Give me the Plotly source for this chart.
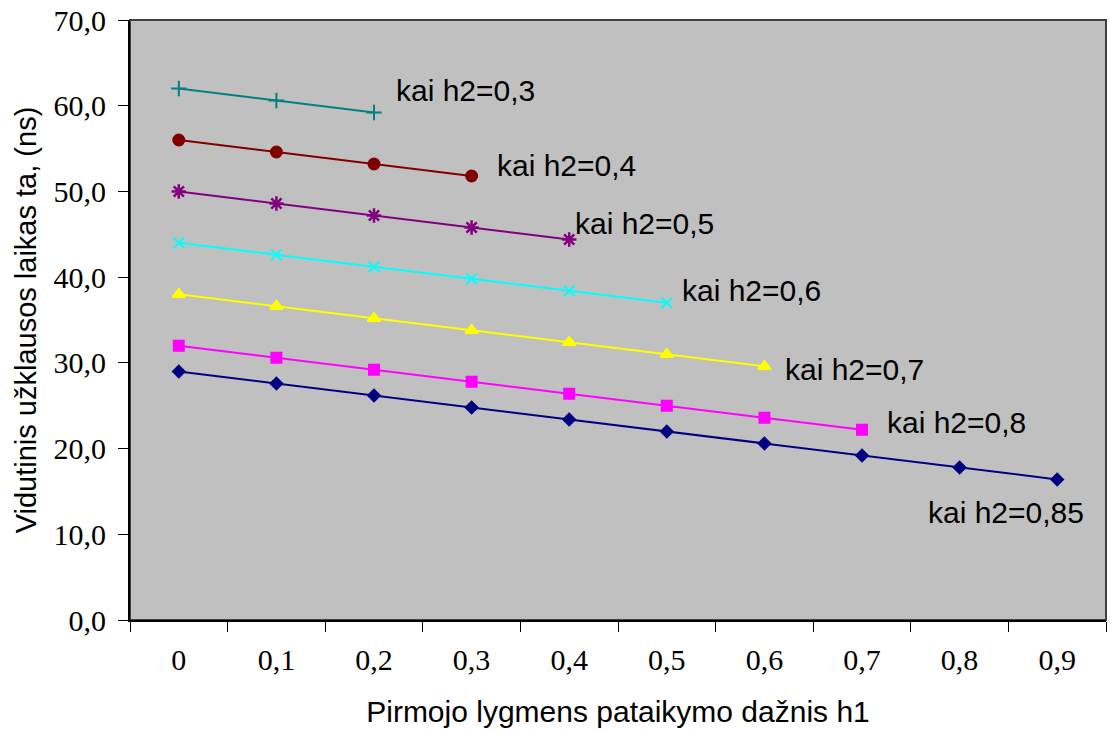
import plotly.graph_objects as go

categories = ["0", "0,1", "0,2", "0,3", "0,4", "0,5", "0,6", "0,7", "0,8", "0,9"]

s_h2_03 = [62.0, 60.6, 59.2]
s_h2_04 = [56.0, 54.6, 53.2, 51.8]
s_h2_05 = [50.0, 48.6, 47.2, 45.8, 44.4]
s_h2_06 = [44.0, 42.6, 41.2, 39.8, 38.4, 37.0]
s_h2_07 = [38.0, 36.6, 35.2, 33.8, 32.4, 31.0, 29.6]
s_h2_08 = [32.0, 30.6, 29.2, 27.8, 26.4, 25.0, 23.6, 22.2]
s_h2_085 = [29.0, 27.6, 26.2, 24.8, 23.4, 22.0, 20.6, 19.2, 17.8, 16.4]

series_labels = ["kai h2=0,3", "kai h2=0,4", "kai h2=0,5", "kai h2=0,6",
                 "kai h2=0,7", "kai h2=0,8", "kai h2=0,85"]
y_ticks = [0, 10, 20, 30, 40, 50, 60, 70]

series = [s_h2_03, s_h2_04, s_h2_05, s_h2_06, s_h2_07, s_h2_08, s_h2_085]
colors = ["#008080", "#800000", "#800080", "#00FFFF", "#FFFF00", "#FF00FF", "#000080"]
symbols = ["cross-thin-open", "circle", "asterisk-open", "x-thin-open",
           "triangle-up", "square", "diamond"]
msizes = [11, 11, 12, 11, 11, 10, 9]
mlw = [2, 2, 2.5, 2, 2, 2, 2]
# label anchor positions (category index, y value)
label_pos = [(2.2, 61.8), (3.24, 53.0), (4.04, 46.3), (5.135, 38.4),
             (6.19, 29.2), (7.235, 23.1), (7.66, 12.6)]

fig = go.Figure()
for vals, col, sym, ms, lw, name in zip(series, colors, symbols, msizes, mlw, series_labels):
    fig.add_trace(go.Scatter(
        x=categories[:len(vals)], y=vals, mode="lines+markers", name=name,
        line=dict(color=col, width=2),
        marker=dict(symbol=sym, size=ms, color=col, line=dict(color=col, width=lw)),
        showlegend=False, cliponaxis=False))

for (px, py), txt in zip(label_pos, series_labels):
    fig.add_annotation(x=px, y=py, text=txt, showarrow=False, xanchor="left",
                       yanchor="middle", font=dict(family="Liberation Sans, Arial", size=30, color="black"))

fig.add_shape(type="rect", xref="paper", yref="paper", x0=0, y0=0, x1=1, y1=1,
              line=dict(color="#404040", width=2), layer="below")

fig.update_layout(
    width=1110, height=732,
    margin=dict(l=130, r=4, t=20, b=112),
    paper_bgcolor="white", plot_bgcolor="#C0C0C0",
    separators=",.",
    xaxis=dict(type="category", categoryorder="array", categoryarray=categories,
               range=[-0.5, 9.5], tickson="boundaries", ticks="outside", ticklen=10,
               tickcolor="black", showgrid=False, showline=True, linecolor="black", linewidth=2,
               ticklabelstandoff=12,
               tickfont=dict(family="Liberation Serif, Times New Roman", size=30, color="black"),
               title=dict(text="Pirmojo lygmens pataikymo dažnis h1", standoff=26,
                          font=dict(family="Liberation Sans, Arial", size=30, color="black")),
               automargin=False),
    yaxis=dict(range=[0, 70], tickvals=y_ticks, tickformat=".1f", ticks="outside", ticklen=10,
               tickcolor="black", showgrid=False, showline=True, linecolor="black", linewidth=2,
               zeroline=False, ticklabelstandoff=6,
               tickfont=dict(family="Liberation Serif, Times New Roman", size=30, color="black"),
               title=dict(text="Vidutinis užklausos laikas ta, (ns)", standoff=8,
                          font=dict(family="Liberation Sans, Arial", size=29, color="black")),
               automargin=False),
)

fig.write_html("out.html")
